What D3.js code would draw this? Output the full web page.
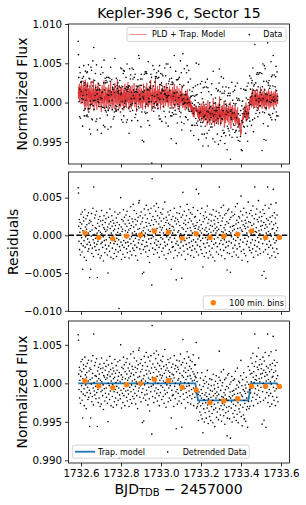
<!DOCTYPE html>
<html>
<head>
<meta charset="utf-8">
<script src="https://cdn.jsdelivr.net/npm/d3@7"></script>
<style>
  body { margin: 0; background: #fff; }
  svg { display: block; font-family: "DejaVu Sans", sans-serif; }
</style>
</head>
<body>
<svg id="fig" width="306" height="505"></svg>
<script>
// --- data ---
const t0 = 1732.586;          // first cadence, BJD - 2457000
const cadence = 1 / 720;      // 2-min cadence, days

// residuals, in ppt (1e-3)
const residPpt = [
  6.3, 5.6, 1.2, -0.8, 2.1, -1.9, 0.4, 1.7, -2.6, 0.9, 2.8, -1.1, -0.3, 1.5, -2.2, 3.1, -4.5, 0.6, -1.4, 2.4,
  1.9, -0.7, -2.9, 0.2, 3.4, -1.6, 1.1, -0.2, 2.2, -3.3, 0.8, 1.4, -1.2, 2.6, -0.5, -2.1, 0.3, 3.0, -1.8, 1.6,
  -0.9, -5.6, 2.0, 0.5, -1.3, -4.5, 1.8, -0.1, 2.9, -2.4, 0.7, -1.7, 1.3, 3.6, -0.6, -2.8, 6.4, 0.1, -1.0, 2.3,
  -1.5, 1.0, 2.7, -0.4, -2.0, 0.9, 3.2, -1.2, 0.3, -5.6, 1.6, -0.8, -2.5, 2.1, 0.6, -1.9, 1.2, -0.3, 2.5, -3.0,
  0.4, 1.9, -1.1, -2.7, 3.3, 0.2, -0.9, 1.4, -1.6, 2.0, -0.2, -3.4, 1.0, 2.6, -0.7, 0.8, -2.3, 1.7, -1.3, 0.5,
  2.2, -0.6, -1.8, 3.0, 0.7, -2.6, 1.1, -5.0, 0.0, 2.4, -1.4, 1.5, -0.3, -2.1, 3.5, 0.9, -1.0, 1.8, -2.9, 0.3,
  -0.5, 2.6, 1.2, -1.7, -0.2, 2.0, -3.1, 0.6, 1.6, -1.1, -2.4, 0.8, 3.1, -0.8, 1.3, -1.9, 0.1, 2.3, -2.8, -0.4,
  1.7, -1.2, 0.4, 2.8, -2.2, 0.9, -0.6, -9.7, 1.4, -1.5, 3.0, 0.2, -2.0, 5.0, -0.9, 1.1, -3.2, 2.1, 0.5, -1.3,
  0.8, -2.5, 1.9, 3.4, -0.7, -1.6, 2.4, 0.0, -2.9, 1.5, 0.6, -1.0, 2.7, -0.3, -1.8, 1.2, 3.2, -2.3, 0.4, -0.9,
  2.0, -1.4, 0.7, -3.0, 1.6, 2.5, -0.5, -2.1, 0.9, 3.8, -1.1, 1.3, -0.2, -2.6, 2.2, 0.3, -1.7, 1.8, 4.1, -0.8,
  1.1, -2.0, 3.3, 0.5, -1.3, 2.1, -0.4, -2.7, 1.4, 0.2, 2.9, -1.6, -0.1, 1.9, -3.3, 0.8, 2.4, -1.0, 4.3, -0.6,
  4.6, 0.9, -1.8, 2.6, -0.3, 1.5, -2.4, 3.1, 0.4, -1.2, 1.8, -5.1, 2.3, -0.7, 0.6, -1.9, -4.9, 1.0, 3.5, -0.2,
  -1.5, 2.7, 0.3, -2.2, 1.7, 4.0, -0.9, 1.2, -1.4, 2.2, 0.1, -2.8, 3.4, 0.7, -0.5, 1.6, -2.0, -3.6, 2.9, 0.5,
  1.3, -1.1, 3.6, -0.4, 2.0, -6.6, 7.5, 0.8, -1.7, 2.5, -0.2, 1.4, -2.5, 3.9, 0.6, -1.0, 2.1, -1.9, 0.2, 3.2,
  -0.6, 1.8, 4.2, -1.3, 0.9, -2.3, 2.6, 0.0, -0.8, 3.7, 1.5, -1.6, -2.9, 2.3, 0.4, 1.1, -1.2, 3.0, -0.3, 1.9,
  0.7, -2.1, 2.8, 1.0, -0.5, 3.5, -1.7, 0.3, 2.2, -2.6, 1.3, -0.9, 4.4, 0.1, -1.4, 1.7, -3.1, 2.4, 0.8, -0.2,
  2.0, -1.2, 0.5, 3.1, -2.4, 1.6, -0.6, 2.7, -1.9, 0.9, 1.4, -0.3, 3.3, -2.2, 0.6, -4.5, 2.1, -0.9, 1.2, -1.6,
  0.3, 2.5, -1.5, 1.1, -3.0, 0.7, 3.6, -0.4, 1.9, -2.0, 0.0, 2.3, -1.1, -5.9, 1.5, 3.0, -0.8, -2.7, 2.1, 0.4,
  -1.3, 1.8, 0.6, -2.3, 2.9, -0.2, 1.3, -1.7, 3.8, 0.2, -0.9, 2.4, -2.6, -5.7, 1.0, -0.5, 2.7, 5.7, -1.4, 0.8,
  1.6, -2.1, 3.2, 0.1, -0.7, 2.0, -3.2, 1.4, 0.5, -1.2, 2.6, -0.4, 4.1, -1.8, 0.9, -2.5, 1.7, 0.0, 3.4, -1.0,
  -0.3, 2.2, -1.6, 1.0, 3.0, -2.7, 0.6, 1.9, -0.8, -2.0, 2.8, 0.3, -1.4, 1.5, 3.7, -0.6, -2.9, 1.2, 0.4, 2.4,
  -1.8, 0.9, 2.5, -0.9, 1.3, 6.1, -2.2, 0.2, 1.7, -1.3, 3.3, -0.5, 0.8, -2.6, 5.5, 1.1, -0.2, 2.0, -1.5, 0.6,
  2.9, -0.7, -1.9, 1.4, 0.3, 3.6, -2.4, 0.9, -0.4, -4.2, 1.8, 2.6, -1.1, 0.1, -2.8, 2.2, 0.7, -1.6, 3.1, -0.3,
  1.0, -2.3, 2.4, 0.5, -1.0, 3.9, -0.6, 1.6, -3.0, 0.2, 2.1, -1.4, 0.8, -2.1, 2.8, -0.2, 1.3, -2.6, 0.4, 1.9,
  -0.8, 2.7, -1.7, 1.2, 0.0, -2.9, 3.4, 0.6, -1.2, 2.0, -0.5, 1.5, -3.4, 0.9, 2.5, -1.0, 0.3, 3.2, -2.2, 1.1,
  0.6, -1.5, 2.2, -0.3, 1.7, -2.5, 0.8, 3.0, 6.4, -1.1, 0.1, 2.6, -1.9, 1.3, -0.7, 3.7, -2.7, 0.5, 1.9, -0.4,
  2.3, -1.2, 0.4, 4.0, -2.0, 1.0, -0.6, 2.7, -3.1, 0.7, 1.4, -1.6, 2.9, 0.2, -0.9, 1.8, -4.6, -2.3, 3.3, 0.0,
  -1.4, 1.6, 3.5, -0.8, 0.5, -2.4, 2.1, 1.1, -4.9, 0.3, 2.4, -1.0, -0.2, 3.1, -2.8, 1.2, 0.6, -1.7, 2.6, -0.5,
  1.3, -2.2, 0.8, 2.8, -1.3, 0.1, 3.8, -0.7, 1.5, -2.6, 0.4, 2.0, -1.8, 4.2, 0.9, -0.3, -2.9, 1.7, 2.5, -1.1,
  0.2, 2.3, -1.5, 1.0, -0.6, 3.2, 5.2, -2.1, 0.7, 1.9, -3.3, 0.5, 2.7, -0.9, 1.4, -1.9, 3.6, 0.0, -2.4, 1.2,
  -0.4, 2.0, 0.9, -2.7, 1.6, 3.0, -1.2, 0.3, 2.4, -0.8, -3.5, 1.1, 4.4, -0.2, 1.8, -1.6, 0.6, 2.9, -2.0, 0.4,
  1.7, -1.0, 3.3, 0.2, -2.3, 1.3, 2.6, -0.6, -1.8, 3.9, 0.8, -2.9, 1.5, 0.1, 2.2, -1.3, 6.4, 0.5, -0.7, 2.8,
  -2.1, 1.0, 0.4, 3.5, -1.5, 2.1, -0.3, -2.6, 1.8, 4.6, -0.9, 0.6, 2.4, -1.8, 0.2, 3.1, -2.4, 1.2, -0.5, 1.9,
  0.7, 2.5, -5.3, 1.3, -1.1, 3.4, 0.0, -2.2, 1.7, -4.8, 2.9, -0.6, 0.9, 4.0, -1.9, 1.4, -5.7, 0.3, 2.2, -1.2,
  1.1, -0.4, 6.4, -2.5, 2.0, 0.5, -1.6, 3.6, -0.8, 1.5, -3.0, 2.4, 0.2, -1.3, 4.1, -0.1, 1.8, -2.7, 0.8, 2.6,
  -1.7, 0.9, 6.1, -0.5, 1.4, -2.2, 3.0, 0.3, -1.0, 2.3, -2.9, 1.6, 4.3, -0.7, 0.6, -1.8, 2.7, -0.2, 1.0, -2.4
];

// PLD systematics part of the red model, in ppt
const sysPpt = [
  1.5, 0.5, 2.0, 0.9, 2.4, 0.1, 1.3, 2.1, 0.6, 1.7, -0.2, 2.5, 0.8, 1.2, 2.2, 0.0, 1.5, 0.3, 1.8, 0.9,
  2.8, -0.3, 1.2, 2.0, -0.9, 0.8, 2.9, 0.5, -0.6, 1.6, 0.2, 2.4, -0.4, 1.3, 2.6, 0.3, -1.1, 1.8, 0.6, 1.5,
  0.1, 2.2, 1.0, -0.8, 1.5, 0.5, 2.7, -0.1, 1.2, 0.3, 1.9, -0.5, 0.8, 1.7, 0.2, 3.0, 0.6, -1.0, 1.3, 0.5,
  1.8, -0.1, 1.0, 2.3, -0.4, 0.7, 1.6, -0.9, 0.8, 2.1, 0.0, 1.2, 2.6, 0.3, -0.6, 1.4, 0.5, 1.9, -0.3, 1.0,
  0.2, 1.7, 0.6, -1.2, 1.2, 0.3, 2.2, -0.1, 1.0, 1.8, -0.4, 0.5, 1.5, 2.8, 0.0, 0.8, -0.8, 1.4, 0.3, 2.0,
  0.6, -0.6, 1.2, 0.2, 1.9, 1.0, -0.1, 1.6, -1.0, 0.8, 2.3, 0.0, 0.5, 1.4, -0.4, 1.8, 0.6, 2.7, -0.2, 1.0,
  1.5, 0.3, -0.9, 0.8, 2.1, -0.3, 1.0, 1.7, 0.1, -0.7, 1.2, 0.5, 2.5, 0.0, 0.7, 1.5, -1.2, 0.8, 1.8, -0.1,
  0.5, 3.0, 1.0, -0.3, 1.3, 0.3, 2.1, -0.8, 0.7, 1.2, -0.2, 1.7, 0.8, -0.6, 1.9, 0.1, 1.0, 2.2, -0.4, 0.5,
  1.2, 0.0, 1.8, 0.7, -1.0, 1.0, 1.6, -0.1, 2.4, 0.3, -0.4, 1.3, 0.5, 1.9, -0.7, 0.8, 1.7, 0.1, 1.0, 2.6,
  -0.1, 0.7, 1.4, -0.9, 0.5, 1.8, 0.0, 1.0, 2.1, -0.3, 0.8, -0.8, 1.5, 0.3, 2.2, -0.4, 0.7, 1.2, 0.1, 1.7,
  0.5, 2.5, -0.1, 0.8, -0.6, 1.5, 0.3, 1.2, 0.0, 1.9, -1.2, 0.7, 1.4, 0.1, 1.0, 2.1, -0.3, 0.5, 1.7, -0.1,
  1.0, 0.1, 2.2, -0.4, 0.8, 1.5, -0.7, 0.5, 1.8, 0.0, 1.2, 0.3, -0.9, 1.4, 0.7, 2.4, -0.1, 1.0, 0.1, 1.7,
  0.3, 1.2, -0.8, 0.8, 2.0, -0.1, 0.7, 2.5, 0.1, -0.5, 1.5, 0.5, 1.8, -0.6, 1.0, 0.0, 2.1, 0.7, -0.3, 1.4,
  0.8, 2.9, 0.0, 0.5, 1.2, -1.1, 1.7, 0.1, 1.0, 2.2, -0.3, 0.7, 1.4, 0.3, -0.7, 1.8, 0.5, 1.2, 3.1, -0.1,
  0.7, 1.5, -0.4, 1.0, 0.1, 2.1, 0.5, -0.8, 1.4, 0.3, 1.7, -0.1, 0.8, 2.4, 0.0, 1.2, -0.9, 0.7, 1.5, 0.3,
  1.8, -0.3, 0.8, 0.5, 2.2, -0.1, 1.2, 0.1, -0.7, 1.5, 0.7, 2.0, 0.0, 1.0, -0.4, 1.7, 0.5, 2.5, 0.1, 0.8,
  -0.1, 1.4, 0.3, 1.8, -0.6, 0.8, 1.5, 0.0, 0.7, 2.1, 0.1, -0.4, 1.2, 0.5, 1.7, -0.1, 1.0, -0.8, 1.4, 0.3,
  2.0, 0.0, 0.8, -0.3, 1.5, 0.5, 2.4, 0.1, -0.7, 1.0, 0.3, 1.7, -0.4, 0.7, 1.4, -0.1, 2.1, 0.1, 0.8, -0.6,
  0.5, 1.2, 0.0, 1.8, 0.3, -0.9, 1.0, -0.1, 1.5, 0.7, -0.4, 1.4, 0.1, 2.2, 0.0, 0.8, -0.7, 0.5, 1.2, -0.3,
  0.6, -0.6, 1.1, -0.2, 0.7, -1.0, 1.4, 0.0, 0.5, -0.7, 1.2, -0.3, 0.6, 1.7, -0.5, 0.3, 0.9, -0.9, 0.7, -0.1,
  0.3, -0.6, 0.5, -0.4, 0.0, -0.9, 0.2, -1.1, -0.3, -0.9, -1.4, -0.4, -1.5, -0.6, -1.8, -0.8, -1.3, -1.9, -0.7, -1.6,
  -1.1, -0.6, -0.3, -0.8, 0.2, -0.3, 0.6, 0.0, 0.8, 0.1, 0.9, 0.3, 1.4, 0.1, 1.6, 0.6, 1.1, 0.0, 1.5, 0.4,
  1.7, 0.4, 1.1, 2.1, -0.1, 1.3, 0.6, 1.8, 0.1, 0.9, 2.3, -0.3, 1.5, 0.3, 1.0, 2.0, -0.1, 0.8, 1.7, 0.4,
  1.0, 0.0, 1.8, 0.6, -0.7, 1.3, 0.3, 2.5, -0.3, 0.8, 1.5, 0.1, 0.7, 2.1, -0.6, 1.0, 0.4, 1.7, -0.1, 1.3,
  0.3, 1.9, 0.8, -0.4, 1.5, 0.5, 2.8, -0.1, 1.0, 0.1, 1.7, -0.8, 0.6, 1.3, 0.3, 2.2, -0.3, 0.8, 1.8, 0.1,
  1.0, -0.3, 1.5, 0.5, 2.1, -0.6, 0.8, 1.7, 0.1, 3.0, 0.4, 1.0, -0.7, 1.3, 0.3, 1.8, 0.6, -0.3, 1.5, 0.5,
  1.9, -0.1, 0.8, 1.3, 0.3, 2.4, -1.0, 1.0, 0.1, 1.7, 0.6, -0.4, 1.3, 0.5, 2.1, 0.0, 0.8, 1.5, -0.2, 1.0,
  0.3, 1.8, 0.6, -0.6, 1.5, 0.5, 1.0, 2.3, -0.1, 0.8, -1.1, 1.3, 0.3, 1.7, 0.6, -0.3, 1.9, 0.5, 1.0, 0.0,
  0.8, 1.5, 0.1, 1.0, -0.3, 1.8, 0.5, -0.7, 0.6, 1.3, -0.1, 0.8, -0.4, 0.5, 1.6, -0.6, 0.3, -0.9, 0.2, -0.3,
  -0.7, 0.2, -1.2, -0.4, -1.5, -2.0, -1.2, -1.7, -0.8, -0.1, -0.6, 0.3, -0.3, 0.6, 0.0, 1.1, 0.3, 0.8, 1.5, 0.4,
  0.8, 1.8, 0.2, 1.0, 2.2, -0.2, 1.2, 0.5, 1.9, 0.0, 0.8, 1.5, 0.3, 1.0, 0.1, 1.3, 0.5, 1.7, 0.6, 1.0,
  0.5, 1.0, -0.2, 0.6, -0.6, 1.2, 0.2, 1.8, -0.4, 0.5, 0.8, -0.8, 0.6, 1.4, 0.1, -0.7, 1.0, 0.3, 1.6, -0.3,
  0.7, -0.7, 1.2, 0.1, 0.5, 1.7, -0.4, 0.8, 0.2, -1.0, 1.0, -0.1, 1.4, 0.5, -0.6, 0.7, 2.0, 0.1, 0.8, -0.3,
  0.3, 1.2, -0.8, 0.7, -0.1, 1.5, 0.5, -0.5, 1.0, 0.1, 1.8, -0.7, 0.7, 0.3, 1.2, -0.3, 0.9, -1.0, 0.5, 1.4,
  -0.1, 0.7, 1.2, -0.5, 0.5, 1.7, 0.1, -0.8, 0.9, 0.3, 1.4, -0.3, 0.7, -0.6, 1.1, 0.1, 1.5, 0.5, -0.5, 0.9,
  0.3, 1.2, -0.1, 0.7, -0.7, 1.4, 0.5, 0.1, 1.1, -0.3, 0.7, 1.7, 0.3, -0.5, 0.9, 0.1, 1.2, 0.5, -0.2, 0.7
];

// trapezoid transit model vertices
const trapTime = [1733.1715, 1733.1850, 1733.4370, 1733.4500];
const trapFlux = [1.00000, 0.99778, 0.99778, 1.00000];

// 100-minute bins
const binTime  = [1732.620, 1732.689, 1732.759, 1732.828, 1732.898, 1732.967, 1733.037, 1733.106,
                  1733.176, 1733.245, 1733.314, 1733.384, 1733.453, 1733.523, 1733.592];
const binResid = [0.00030, -0.00027, -0.00044, -0.00010, 0.00004, 0.00057, 0.00040, -0.00040,
                  0.00022, -0.00027, -0.00013, 0.00013, 0.00057, -0.00030, -0.00027];
const binDetr  = [1.00030, 0.99965, 0.99943, 0.99982, 1.00000, 1.00052, 1.00034, 0.99948,
                  0.99913, 0.99750, 0.99770, 0.99800, 0.99961, 0.99961, 0.99960];

// ticks
const xTicks = [1732.6, 1732.8, 1733.0, 1733.2, 1733.4, 1733.6];
const fluxTicksTop = [0.995, 1.000, 1.005, 1.010];
const residTicks = [-0.010, -0.005, 0.000, 0.005];
const fluxTicksBot = [0.990, 0.995, 1.000, 1.005];

// --- derived series ---
const N = Math.min(residPpt.length, sysPpt.length);
const time = d3.range(N).map(i => t0 + i * cadence);
const trapAt = d3.scaleLinear().domain(trapTime).range(trapFlux).clamp(true);
const trapModel = time.map(t => trapAt(t));
const resid = residPpt.slice(0, N).map(v => v * 1e-3);
const pldModel = trapModel.map((m, i) => m + sysPpt[i] * 1e-3);
const rawFlux = pldModel.map((m, i) => m + resid[i]);
const detrended = trapModel.map((m, i) => m + resid[i]);
const trapLine = [[time[0], 1]].concat(trapTime.map((t, i) => [t, trapFlux[i]]), [[time[N - 1], 1]]);

// --- layout ---
const svg = d3.select('#fig');
svg.append('rect').attr('width', 306).attr('height', 505).attr('fill', '#fff');
const L = 68.5, R = 289.5;
const x = d3.scaleLinear().domain([1732.5375, 1733.6425]).range([L, R]);
const y1 = d3.scaleLinear().domain([0.99218, 1.0100]).range([164, 24]);
const y2 = d3.scaleLinear().domain([-0.0101, 0.0084]).range([311.5, 172]);
const y3 = d3.scaleLinear().domain([0.98965, 1.0081]).range([463, 321]);

const FONT = '"DejaVu Sans", sans-serif';
const C_RED = '#d62728', C_BLUE = '#1f77b4', C_ORANGE = '#ff7f0e';
const DOT_R = 0.8;

function panel(id, y, yTicks, yFmt, showX) {
  const [bot, top] = y.range();
  const g = svg.append('g');
  g.append('clipPath').attr('id', 'clip' + id)
    .append('rect').attr('x', L).attr('y', top).attr('width', R - L).attr('height', bot - top);
  const plot = g.append('g').attr('clip-path', `url(#clip${id})`);

  const ya = g.append('g').attr('transform', `translate(${L},0)`)
    .call(d3.axisLeft(y).tickValues(yTicks).tickSize(3.5).tickPadding(3).tickFormat(yFmt));
  const xa = g.append('g').attr('transform', `translate(0,${bot})`)
    .call(d3.axisBottom(x).tickValues(xTicks).tickSize(3.5).tickPadding(3)
      .tickFormat(showX ? d3.format('.1f') : () => ''));
  [ya, xa].forEach(a => {
    a.select('.domain').remove();
    a.selectAll('.tick line').attr('stroke', '#000').attr('stroke-width', 0.8);
    a.selectAll('.tick text').attr('fill', '#000').attr('font-size', 10.3).attr('font-family', FONT);
  });
  return { g, plot, top, bot };
}

function frame(p) {
  p.g.append('rect').attr('x', L).attr('y', p.top).attr('width', R - L).attr('height', p.bot - p.top)
    .attr('fill', 'none').attr('stroke', '#000').attr('stroke-width', 0.8);
}

function dots(sel, ys, y) {
  sel.append('g').selectAll('circle').data(ys).join('circle')
    .attr('cx', (d, i) => x(time[i])).attr('cy', d => y(d)).attr('r', DOT_R).attr('fill', '#000');
}

function legendBox(g, bx, by, bw, bh) {
  g.append('rect').attr('x', bx).attr('y', by).attr('width', bw).attr('height', bh).attr('rx', 2)
    .attr('fill', '#fff').attr('fill-opacity', 0.8).attr('stroke', '#ccc').attr('stroke-width', 0.8);
}
function legendText(g, tx, ty, s) {
  g.append('text').attr('x', tx).attr('y', ty).attr('font-size', 8).attr('font-family', FONT)
    .attr('fill', '#000').text(s);
}

// panel 1: raw flux with PLD + trapezoid model
const fmt3 = d3.format('.3f');
const p1 = panel(1, y1, fluxTicksTop, fmt3, false);
p1.plot.append('path').datum(pldModel)
  .attr('d', d3.line().x((d, i) => x(time[i])).y(d => y1(d)))
  .attr('fill', 'none').attr('stroke', C_RED).attr('stroke-width', 1).attr('stroke-opacity', 0.65);
dots(p1.plot, rawFlux, y1);
frame(p1);
legendBox(p1.g, 127, 27.3, 159, 14.2);
p1.g.append('line').attr('x1', 129.5).attr('x2', 146.5).attr('y1', 34.4).attr('y2', 34.4)
  .attr('stroke', C_RED).attr('stroke-opacity', 0.55).attr('stroke-width', 1);
legendText(p1.g, 152, 37.2, 'PLD + Trap. Model');
p1.g.append('circle').attr('cx', 249.3).attr('cy', 34.6).attr('r', DOT_R).attr('fill', '#000');
legendText(p1.g, 263.3, 37.2, 'Data');

// panel 2: residuals
const p2 = panel(2, y2, residTicks, fmt3, false);
dots(p2.plot, resid, y2);
p2.plot.append('line').attr('x1', L).attr('x2', R).attr('y1', y2(0)).attr('y2', y2(0))
  .attr('stroke', '#000').attr('stroke-width', 1.5).attr('stroke-dasharray', '5.5,2.4');
p2.plot.append('g').selectAll('circle').data(binResid).join('circle')
  .attr('cx', (d, i) => x(binTime[i])).attr('cy', d => y2(d)).attr('r', 2.7).attr('fill', C_ORANGE);
frame(p2);
legendBox(p2.g, 203.3, 295.8, 82.4, 13.6);
p2.g.append('circle').attr('cx', 213.3).attr('cy', 302.8).attr('r', 2.7).attr('fill', C_ORANGE);
legendText(p2.g, 229.3, 305.6, '100 min. bins');

// panel 3: detrended data with trapezoid model
const p3 = panel(3, y3, fluxTicksBot, fmt3, true);
p3.plot.append('path').datum(trapLine)
  .attr('d', d3.line().x(d => x(d[0])).y(d => y3(d[1])))
  .attr('fill', 'none').attr('stroke', C_BLUE).attr('stroke-width', 1.8);
dots(p3.plot, detrended, y3);
p3.plot.append('g').selectAll('circle').data(binDetr).join('circle')
  .attr('cx', (d, i) => x(binTime[i])).attr('cy', d => y3(d)).attr('r', 2.7).attr('fill', C_ORANGE);
frame(p3);
legendBox(p3.g, 72.3, 445, 177, 13.2);
p3.g.append('line').attr('x1', 75).attr('x2', 95).attr('y1', 451.7).attr('y2', 451.7)
  .attr('stroke', C_BLUE).attr('stroke-width', 1.8);
legendText(p3.g, 98, 454.5, 'Trap. model');
p3.g.append('circle').attr('cx', 167.7).attr('cy', 451.9).attr('r', DOT_R).attr('fill', '#000');
legendText(p3.g, 182.7, 454.5, 'Detrended Data');

// titles and axis labels
svg.append('text').attr('x', 179).attr('y', 18.3).attr('text-anchor', 'middle')
  .attr('font-size', 14).attr('font-family', FONT).attr('fill', '#000').text('Kepler-396 c, Sector 15');

function yLabel(xp, yc, s) {
  svg.append('text').attr('transform', `translate(${xp},${yc}) rotate(-90)`).attr('text-anchor', 'middle')
    .attr('font-size', 14).attr('font-family', FONT).attr('fill', '#000').text(s);
}
yLabel(27, 94, 'Normalized Flux');
yLabel(17.5, 241.8, 'Residuals');
yLabel(27, 392, 'Normalized Flux');

const xl = svg.append('text').attr('x', 178.5).attr('y', 494).attr('text-anchor', 'middle')
  .attr('font-size', 14).attr('font-family', FONT).attr('fill', '#000');
xl.append('tspan').text('BJD');
xl.append('tspan').attr('font-size', 10).attr('dy', 2).text('TDB');
xl.append('tspan').attr('dy', -2).text(' \u2212 2457000');
</script>
</body>
</html>
